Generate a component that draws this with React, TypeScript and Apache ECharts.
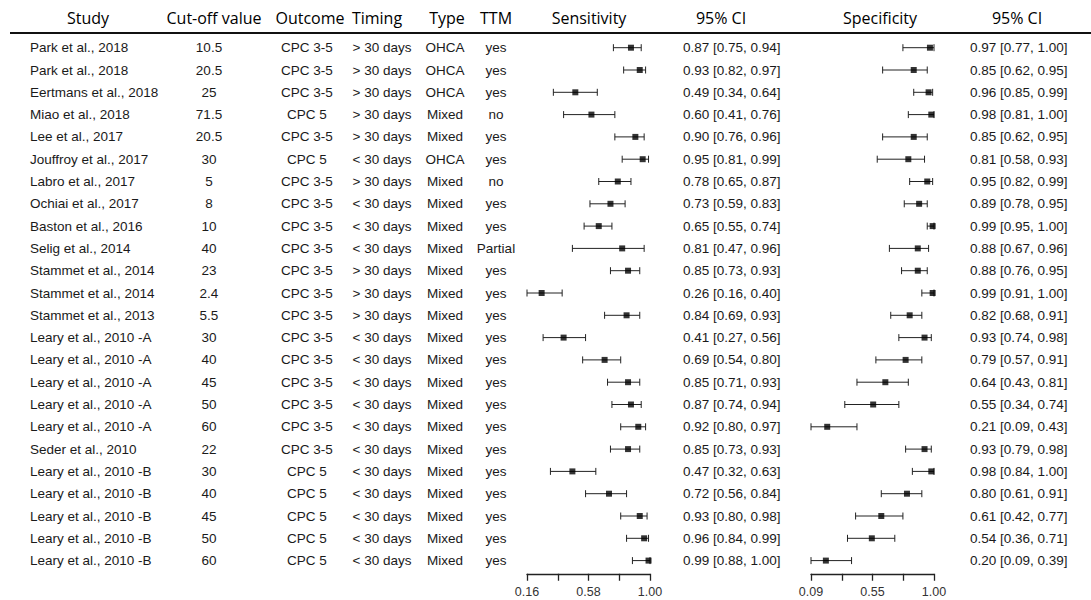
import React, { useEffect, useRef } from "react";
import * as echarts from "echarts";

const studies = [
  "Park et al., 2018", "Park et al., 2018", "Eertmans et al., 2018", "Miao et al., 2018",
  "Lee et al., 2017", "Jouffroy et al., 2017", "Labro et al., 2017", "Ochiai et al., 2017",
  "Baston et al., 2016", "Selig et al., 2014", "Stammet et al., 2014", "Stammet et al., 2014",
  "Stammet et al., 2013", "Leary et al., 2010 -A", "Leary et al., 2010 -A", "Leary et al., 2010 -A",
  "Leary et al., 2010 -A", "Leary et al., 2010 -A", "Seder et al., 2010", "Leary et al., 2010 -B",
  "Leary et al., 2010 -B", "Leary et al., 2010 -B", "Leary et al., 2010 -B", "Leary et al., 2010 -B",
];
const cutoffs = ["10.5", "20.5", "25", "71.5", "20.5", "30", "5", "8", "10", "40", "23", "2.4", "5.5",
  "30", "40", "45", "50", "60", "22", "30", "40", "45", "50", "60"];
const outcomes = ["CPC 3-5", "CPC 3-5", "CPC 3-5", "CPC 5", "CPC 3-5", "CPC 5", "CPC 3-5", "CPC 3-5",
  "CPC 3-5", "CPC 3-5", "CPC 3-5", "CPC 3-5", "CPC 3-5", "CPC 3-5", "CPC 3-5", "CPC 3-5", "CPC 3-5",
  "CPC 3-5", "CPC 3-5", "CPC 5", "CPC 5", "CPC 5", "CPC 5", "CPC 5"];
const timings = ["> 30 days", "> 30 days", "> 30 days", "> 30 days", "> 30 days", "< 30 days",
  "> 30 days", "< 30 days", "< 30 days", "< 30 days", "> 30 days", "> 30 days", "> 30 days",
  "< 30 days", "< 30 days", "< 30 days", "< 30 days", "< 30 days", "< 30 days", "< 30 days",
  "< 30 days", "< 30 days", "< 30 days", "< 30 days"];
const types = ["OHCA", "OHCA", "OHCA", "Mixed", "Mixed", "OHCA", "Mixed", "Mixed", "Mixed", "Mixed",
  "Mixed", "Mixed", "Mixed", "Mixed", "Mixed", "Mixed", "Mixed", "Mixed", "Mixed", "Mixed", "Mixed",
  "Mixed", "Mixed", "Mixed"];
const ttm = ["yes", "yes", "yes", "no", "yes", "yes", "no", "yes", "yes", "Partial", "yes", "yes",
  "yes", "yes", "yes", "yes", "yes", "yes", "yes", "yes", "yes", "yes", "yes", "yes"];

const sensEst = [0.87, 0.93, 0.49, 0.60, 0.90, 0.95, 0.78, 0.73, 0.65, 0.81, 0.85, 0.26, 0.84, 0.41,
  0.69, 0.85, 0.87, 0.92, 0.85, 0.47, 0.72, 0.93, 0.96, 0.99];
const sensLo = [0.75, 0.82, 0.34, 0.41, 0.76, 0.81, 0.65, 0.59, 0.55, 0.47, 0.73, 0.16, 0.69, 0.27,
  0.54, 0.71, 0.74, 0.80, 0.73, 0.32, 0.56, 0.80, 0.84, 0.88];
const sensHi = [0.94, 0.97, 0.64, 0.76, 0.96, 0.99, 0.87, 0.83, 0.74, 0.96, 0.93, 0.40, 0.93, 0.56,
  0.80, 0.93, 0.94, 0.97, 0.93, 0.63, 0.84, 0.98, 0.99, 1.00];
const specEst = [0.97, 0.85, 0.96, 0.98, 0.85, 0.81, 0.95, 0.89, 0.99, 0.88, 0.88, 0.99, 0.82, 0.93,
  0.79, 0.64, 0.55, 0.21, 0.93, 0.98, 0.80, 0.61, 0.54, 0.20];
const specLo = [0.77, 0.62, 0.85, 0.81, 0.62, 0.58, 0.82, 0.78, 0.95, 0.67, 0.76, 0.91, 0.68, 0.74,
  0.57, 0.43, 0.34, 0.09, 0.79, 0.84, 0.61, 0.42, 0.36, 0.09];
const specHi = [1.00, 0.95, 0.99, 1.00, 0.95, 0.93, 0.99, 0.95, 1.00, 0.96, 0.95, 1.00, 0.91, 0.98,
  0.91, 0.81, 0.74, 0.43, 0.98, 1.00, 0.91, 0.77, 0.71, 0.39];

const sensMin = 0.16;
const sensMax = 1.0;
const sensTicks = [0.16, 0.37, 0.58, 0.79, 1.0];
const sensTickLabels = [0.16, 0.58, 1.0];
const specMin = 0.09;
const specMax = 1.0;
const specTicks = [0.09, 0.3175, 0.545, 0.7725, 1.0];
const specTickLabels = [0.09, 0.545, 1.0];

const headers = [
  { text: "Study", x: 88 },
  { text: "Cut-off value", x: 214 },
  { text: "Outcome", x: 310 },
  { text: "Timing", x: 377 },
  { text: "Type", x: 447 },
  { text: "TTM", x: 496 },
  { text: "Sensitivity", x: 589 },
  { text: "95% CI", x: 721 },
  { text: "Specificity", x: 880 },
  { text: "95% CI", x: 1017 },
];

const BODY_FONT = '13.5px "Liberation Sans", Arial, sans-serif';
const HEAD_FONT = '500 16px "Open Sans", "Noto Sans", sans-serif';
const TXT = "#1a1a1a";

const fmt = (v: number) => v.toFixed(2);
const ciText = (e: number, l: number, h: number) => `${fmt(e)} [${fmt(l)}, ${fmt(h)}]`;

const rows = studies.map((_, i) => i);

function errorBarItem(params: any, api: any) {
  const lo = api.value(0);
  const hi = api.value(1);
  const row = api.value(2);
  const p1 = api.coord([lo, row]);
  const p2 = api.coord([hi, row]);
  const cap = 3.5;
  const style = { stroke: "#222", lineWidth: 1 };
  return {
    type: "group",
    children: [
      { type: "line", shape: { x1: p1[0], y1: p1[1], x2: p2[0], y2: p2[1] }, style },
      { type: "line", shape: { x1: p1[0], y1: p1[1] - cap, x2: p1[0], y2: p1[1] + cap }, style },
      { type: "line", shape: { x1: p2[0], y1: p2[1] - cap, x2: p2[0], y2: p2[1] + cap }, style },
    ],
  };
}

function tableRowItem(params: any, api: any) {
  const i = api.value(0);
  const y = api.coord([sensMin, i])[1];
  const t = (text: string, x: number, align: string) => ({
    type: "text",
    style: { text, x, y, font: BODY_FONT, fill: TXT, align, verticalAlign: "middle" },
  });
  return {
    type: "group",
    children: [
      t(studies[i], 30, "left"),
      t(cutoffs[i], 209, "center"),
      t(outcomes[i], 307, "center"),
      t(timings[i], 382, "center"),
      t(types[i], 445, "center"),
      t(ttm[i], 496, "center"),
      t(ciText(sensEst[i], sensLo[i], sensHi[i]), 683, "left"),
      t(ciText(specEst[i], specLo[i], specHi[i]), 970, "left"),
    ],
  };
}

const TOP = 36.55;
const HEIGHT = 535.2;

export default function App() {
  const ref = useRef<HTMLDivElement>(null);
  useEffect(() => {
    document.body.style.margin = "0";
    const chart = echarts.init(ref.current!, null, { renderer: "svg" });
    const xAxisCommon = (min: number, max: number, ticks: number[], labels: number[], idx: number) => ({
      type: "value",
      gridIndex: idx,
      min,
      max,
      position: "bottom",
      offset: 2,
      splitLine: { show: false },
      axisLine: { show: true, onZero: false, lineStyle: { color: "#222", width: 1.3 } },
      axisTick: { show: true, inside: false, length: 7, customValues: ticks, lineStyle: { color: "#222", width: 1.3 } },
      axisLabel: {
        show: true,
        customValues: labels,
        formatter: (v: number) => v.toFixed(2),
        color: "#333",
        fontSize: 12.5,
        fontFamily: '"Liberation Sans", Arial, sans-serif',
        margin: 12,
        showMinLabel: true,
        showMaxLabel: true,
        hideOverlap: false,
      },
    });
    const yAxisCommon = (idx: number) => ({
      type: "value",
      gridIndex: idx,
      min: -0.5,
      max: 23.5,
      inverse: true,
      show: false,
    });
    chart.setOption({
      animation: false,
      backgroundColor: "#fff",
      grid: [
        { left: 527, width: 123, top: TOP, height: HEIGHT, outerBoundsMode: "none" },
        { left: 811, width: 123, top: TOP, height: HEIGHT, outerBoundsMode: "none" },
      ],
      xAxis: [
        xAxisCommon(sensMin, sensMax, sensTicks, sensTickLabels, 0),
        xAxisCommon(specMin, specMax, specTicks, specTickLabels, 1),
      ],
      yAxis: [yAxisCommon(0), yAxisCommon(1)],
      graphic: [
        {
          type: "line",
          shape: { x1: 10, y1: 33, x2: 1091, y2: 33 },
          style: { stroke: "#111", lineWidth: 2 },
        },
        ...headers.map((h) => ({
          type: "text",
          x: h.x,
          y: 18,
          style: { text: h.text, font: HEAD_FONT, fill: "#000", align: "center", verticalAlign: "middle" },
        })),
      ],
      series: [
        {
          type: "custom",
          name: "table",
          xAxisIndex: 0,
          yAxisIndex: 0,
          clip: false,
          renderItem: tableRowItem,
          data: rows.map((i) => [i]),
          silent: true,
        },
        {
          type: "custom",
          name: "Sensitivity CI",
          xAxisIndex: 0,
          yAxisIndex: 0,
          clip: false,
          renderItem: errorBarItem,
          encode: { x: [0, 1], y: 2 },
          data: rows.map((i) => [sensLo[i], sensHi[i], i]),
        },
        {
          type: "custom",
          name: "Specificity CI",
          xAxisIndex: 1,
          yAxisIndex: 1,
          clip: false,
          renderItem: errorBarItem,
          encode: { x: [0, 1], y: 2 },
          data: rows.map((i) => [specLo[i], specHi[i], i]),
        },
        {
          type: "scatter",
          name: "Sensitivity",
          xAxisIndex: 0,
          yAxisIndex: 0,
          symbol: "rect",
          symbolSize: 6,
          itemStyle: { color: "#000" },
          data: rows.map((i) => [sensEst[i], i]),
        },
        {
          type: "scatter",
          name: "Specificity",
          xAxisIndex: 1,
          yAxisIndex: 1,
          symbol: "rect",
          symbolSize: 6,
          itemStyle: { color: "#000" },
          data: rows.map((i) => [specEst[i], i]),
        },
      ],
    });
    return () => chart.dispose();
  }, []);
  return <div ref={ref} style={{ width: 1091, height: 600 }} />;
}
